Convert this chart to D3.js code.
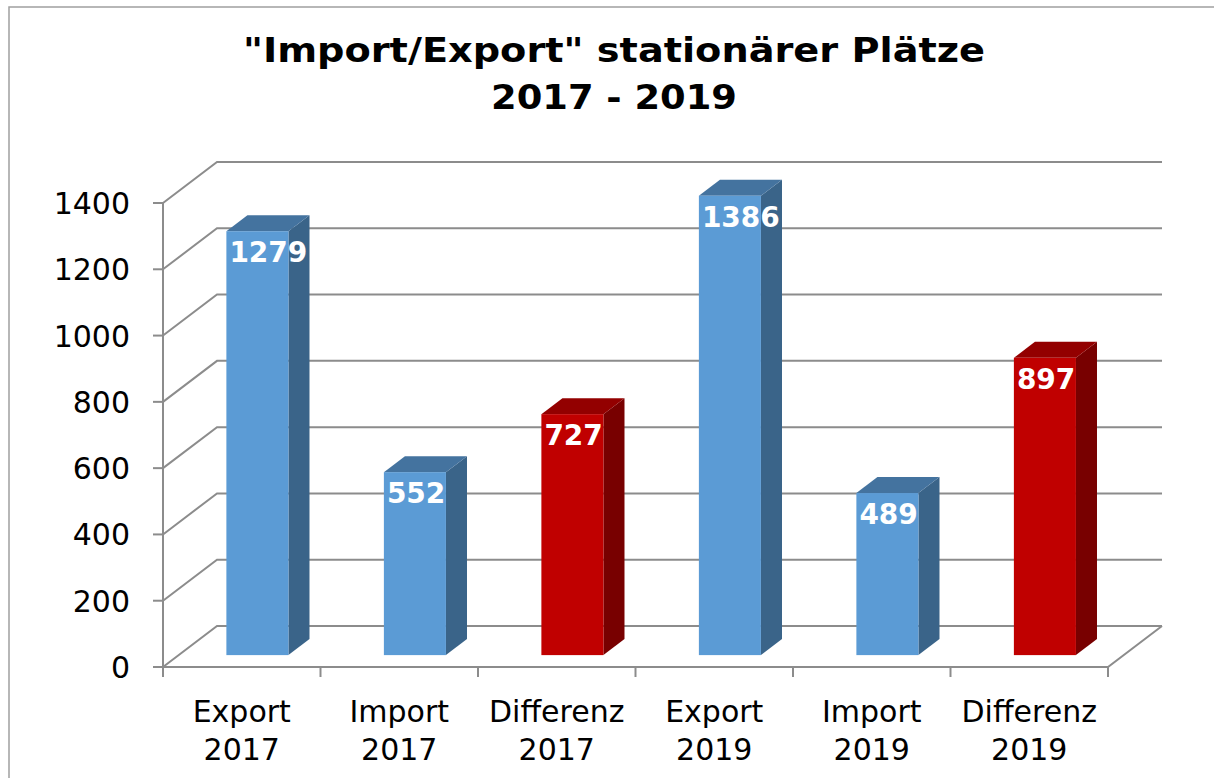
<!DOCTYPE html>
<html>
<head>
<meta charset="utf-8">
<script src="https://cdn.jsdelivr.net/npm/d3@7"></script>
<style>
  body { margin: 0; background: #fff; }
  svg { display: block; font-family: "DejaVu Sans", Verdana, sans-serif; }
</style>
</head>
<body>
<svg></svg>
<script>
// chart data
var categories = ["Export 2017", "Import 2017", "Differenz 2017", "Export 2019", "Import 2019", "Differenz 2019"];
var values = [1279, 552, 727, 1386, 489, 897];
var kinds = ["blue", "blue", "red", "blue", "blue", "red"];
var yTicks = [0, 200, 400, 600, 800, 1000, 1200, 1400];
var titleLines = ["\"Import/Export\" stationärer Plätze", "2017 - 2019"];

var palette = {
  blue: { front: "#5b9bd5", top: "#44739f", side: "#3a6489" },
  red:  { front: "#c00000", top: "#930000", side: "#780000" }
};

var draw = function() {
  var width = 1214, height = 778;
  var left = 163, bottom = 667, plotW = 945;
  var depthX = 54, depthY = 41;        // full depth of the 3d box
  var barFront = 0.29, barBack = 0.68; // bar depth as share of the box

  var svg = d3.select("svg")
    .attr("width", width)
    .attr("height", height);

  // outer frame
  svg.append("rect")
    .attr("x", 9).attr("y", 7)
    .attr("width", width).attr("height", height)
    .attr("fill", "none").attr("stroke", "#a0a0a0").attr("stroke-width", 1.5);

  // title, widened a bit to look like Verdana bold
  var titleWidths = [742, 246];
  svg.append("g")
    .selectAll("text")
    .data(titleLines)
    .enter()
    .append("text")
    .attr("x", 614)
    .attr("y", function(d, i) { return 62 + i * 47; })
    .attr("text-anchor", "middle")
    .attr("font-size", 34).attr("font-weight", "bold")
    .attr("textLength", function(d, i) { return titleWidths[i]; })
    .attr("lengthAdjust", "spacingAndGlyphs")
    .text(function(d) { return d; });

  var y = d3.scaleLinear().domain([0, 1400]).range([0, 464]);
  var x = d3.scaleBand()
    .domain(categories)
    .range([0, plotW])
    .paddingInner(0.606)
    .paddingOuter(0.303);

  var grid = svg.append("g")
    .attr("stroke", "#8c8c8c").attr("stroke-width", 2).attr("fill", "none");

  // back wall and side wall gridlines
  yTicks.forEach(function(t) {
    var yf = bottom - y(t), yb = yf - depthY;
    grid.append("path")
      .attr("d", "M" + left + "," + yf + "L" + (left + depthX) + "," + yb + "L" + (left + depthX + plotW) + "," + yb);
  });

  // floor
  grid.append("path")
    .attr("d", "M" + left + "," + bottom + "L" + (left + plotW) + "," + bottom +
      "L" + (left + plotW + depthX) + "," + (bottom - depthY));

  // y axis line and ticks
  grid.append("line")
    .attr("x1", left).attr("x2", left)
    .attr("y1", bottom - y(1400)).attr("y2", bottom);

  grid.selectAll(".ytick")
    .data(yTicks)
    .enter()
    .append("line")
    .attr("x1", left - 10).attr("x2", left)
    .attr("y1", function(d) { return bottom - y(d); })
    .attr("y2", function(d) { return bottom - y(d); });

  // x ticks at band edges
  var edges = d3.range(categories.length + 1).map(function(i) { return i * x.step(); });
  grid.selectAll(".xtick")
    .data(edges)
    .enter()
    .append("line")
    .attr("x1", function(d) { return left + d; })
    .attr("x2", function(d) { return left + d; })
    .attr("y1", bottom).attr("y2", bottom + 10);

  // y labels
  svg.append("g")
    .selectAll("text")
    .data(yTicks)
    .enter()
    .append("text")
    .attr("x", 130)
    .attr("y", function(d) { return bottom - y(d) + 11; })
    .attr("text-anchor", "end")
    .attr("font-size", 30)
    .text(function(d) { return d; });

  // category labels (two lines)
  svg.append("g")
    .selectAll("text")
    .data(categories)
    .enter()
    .append("text")
    .attr("text-anchor", "middle")
    .attr("font-size", 30)
    .each(function(d) {
      var cx = left + x(d) + x.bandwidth() / 2;
      var parts = d.split(" ");
      d3.select(this).selectAll("tspan")
        .data(parts)
        .enter()
        .append("tspan")
        .attr("x", cx)
        .attr("y", function(p, i) { return 722 + i * 38; })
        .text(function(p) { return p; });
    });

  // bars
  var fx = depthX * barFront, fy = depthY * barFront;
  var bx = depthX * (barBack - barFront), by = depthY * (barBack - barFront);
  var bars = svg.append("g")
    .selectAll("g")
    .data(values)
    .enter()
    .append("g");

  bars.each(function(v, i) {
    var g = d3.select(this);
    var col = palette[kinds[i]];
    var x0 = left + fx + x(categories[i]), x1 = x0 + x.bandwidth();
    var yb = bottom - fy, yt = yb - y(v);

    g.append("path")
      .attr("fill", col.side)
      .attr("d", "M" + x1 + "," + yt + "L" + (x1 + bx) + "," + (yt - by) +
        "L" + (x1 + bx) + "," + (yb - by) + "L" + x1 + "," + yb + "Z");
    g.append("path")
      .attr("fill", col.top)
      .attr("d", "M" + x0 + "," + yt + "L" + x1 + "," + yt +
        "L" + (x1 + bx) + "," + (yt - by) + "L" + (x0 + bx) + "," + (yt - by) + "Z");
    g.append("rect")
      .attr("x", x0).attr("y", yt)
      .attr("width", x1 - x0).attr("height", yb - yt)
      .attr("fill", col.front);

    var label = g.append("text")
      .attr("y", yt + 31)
      .attr("fill", "#fff")
      .attr("font-size", 28)
      .attr("font-weight", "bold")
      .attr("text-anchor", "middle")
      .text(v);
    var w = label.node().getComputedTextLength();
    label.attr("x", Math.max((x0 + x1) / 2, x0 + w / 2 + 3));
  });
};

draw();
</script>
</body>
</html>
